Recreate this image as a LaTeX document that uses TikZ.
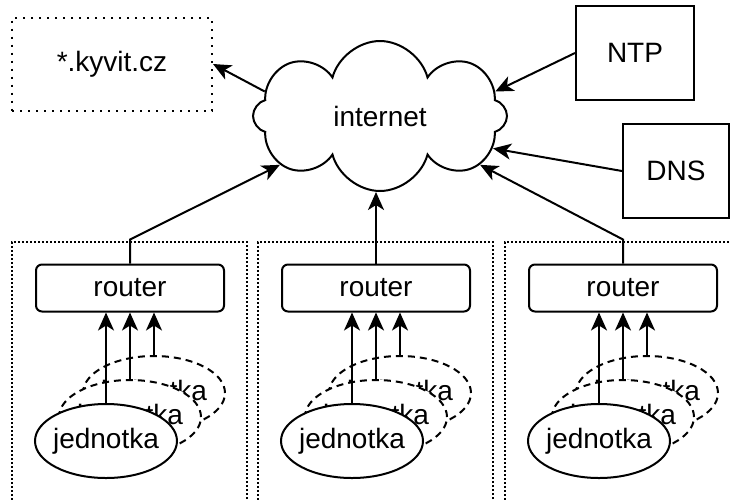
\documentclass[tikz,border=0pt]{standalone}
\usepackage{fontspec}
\setmainfont{Liberation Sans}
\usetikzlibrary{shapes.geometric,shapes.symbols,arrows.meta}

\begin{document}
\begin{tikzpicture}[x=1pt, y=-1pt, line width=2pt, font=\fontsize{28}{34}\selectfont,
	>={Stealth[length=18pt, width=16pt, inset=5pt]},
	box/.style={draw, rectangle},
	zone/.style={draw, line width=2pt, dash pattern=on 2pt off 2pt, minimum width=235pt, minimum height=270pt},
	router/.style={draw, rounded corners=6pt, minimum width=188pt, minimum height=47pt},
	unit/.style={draw, fill=white, ellipse, inner xsep=-3pt, minimum width=142pt, minimum height=74pt},
	ghost/.style={unit, dash pattern=on 7pt off 5pt}]
	\useasboundingbox (0, 0) rectangle (730, 499);
	\node [draw, cloud, cloud puffs=8, cloud puff arc=150, aspect=1.6, inner sep=0pt, minimum width=254pt, minimum height=150pt] (internet) at (380, 116) {internet};
	\node [box, line width=2pt, dash pattern=on 2pt off 6pt, minimum width=200pt, minimum height=93pt] (web) at (112, 64) {*.kyvit.cz};
	\node [box, minimum width=118pt, minimum height=94pt] (ntp) at (635, 53) {NTP};
	\node [box, minimum width=106pt, minimum height=94pt] (dns) at (676, 171) {DNS};
	\foreach \i/\x in {1/130, 2/376, 3/623} {
		\node [zone] (g\i) at (\x - 1, 377) {};
		\node [router] (r\i) at (\x, 288) {router};
		\node [ghost] (u\i c) at (\x + 24, 393) {jednotka};
		\node [ghost] (u\i b) at (\x, 417) {jednotka};
		\node [unit] (u\i a) at (\x - 24, 441) {jednotka};
		\draw [->] (u\i c.north) -- (u\i c.north |- r\i.south);
		\draw [->] (u\i b.north) -- (u\i b.north |- r\i.south);
		\draw [->] (u\i a.north) -- (u\i a.north |- r\i.south);
	}
	\draw [->] (internet.168) -- (web.east);
	\draw [->] (ntp.west) -- (internet.12);
	\draw [->] (dns.west) -- (internet.-16);
	\draw [->] (r1.north) -- ++(0, -24) -- (internet.206);
	\draw [->] (r2.north) -- (r2.north |- internet.south);
	\draw [->] (r3.north) -- ++(0, -24) -- (internet.-26);
\end{tikzpicture}
\end{document}
